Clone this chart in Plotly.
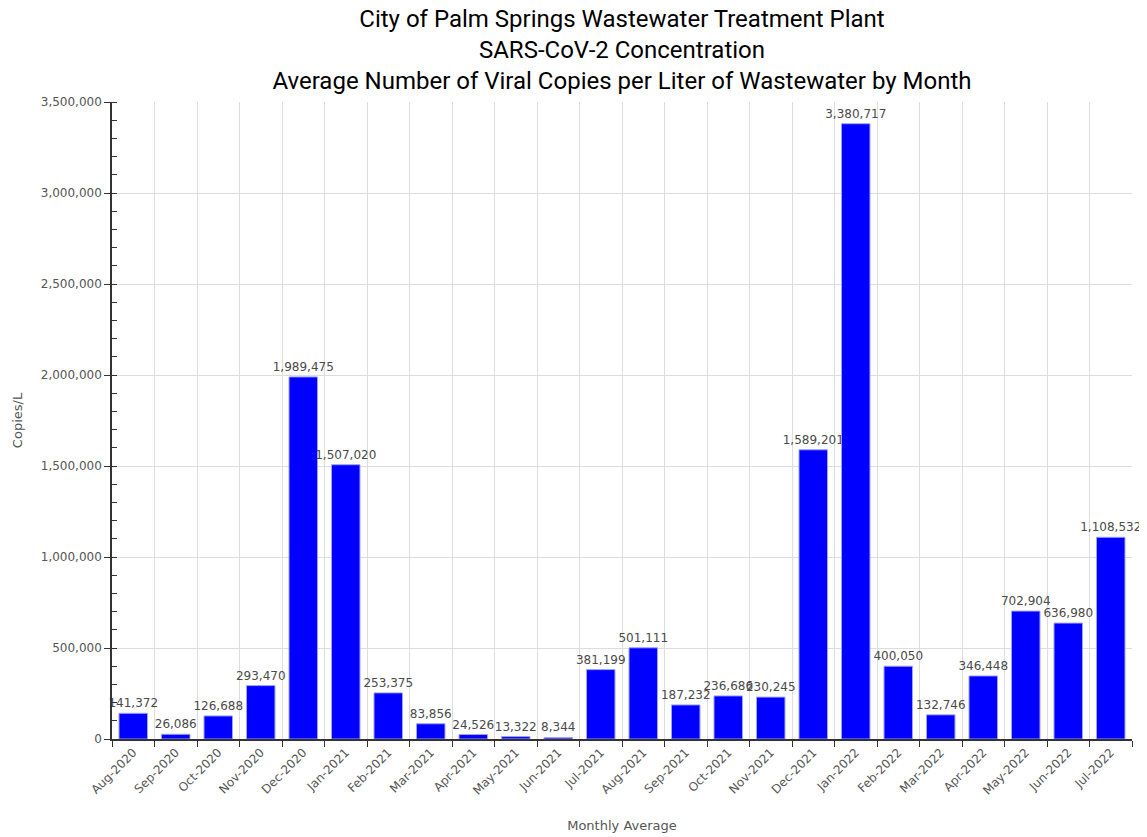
import plotly.graph_objects as go

months = ["Aug-2020", "Sep-2020", "Oct-2020", "Nov-2020", "Dec-2020", "Jan-2021",
          "Feb-2021", "Mar-2021", "Apr-2021", "May-2021", "Jun-2021", "Jul-2021",
          "Aug-2021", "Sep-2021", "Oct-2021", "Nov-2021", "Dec-2021", "Jan-2022",
          "Feb-2022", "Mar-2022", "Apr-2022", "May-2022", "Jun-2022", "Jul-2022"]
copies = [141372, 26086, 126688, 293470, 1989475, 1507020,
          253375, 83856, 24526, 13322, 8344, 381199,
          501111, 187232, 236686, 230245, 1589201, 3380717,
          400050, 132746, 346448, 702904, 636980, 1108532]

labels = [f"{v:,}" for v in copies]

FONT = "DejaVu Sans"
GREY = "#555555"
W, H = 1139, 829

fig = go.Figure(go.Bar(
    x=months, y=copies, text=labels, textposition="outside",
    textangle=0, constraintext="none",
    textfont=dict(family=FONT, size=12, color="#4a4a4a"),
    marker=dict(color="#0000FF", line=dict(color="#a0a0ff", width=1)),
    cliponaxis=False,
))

fig.update_layout(
    width=W, height=H,
    paper_bgcolor="white", plot_bgcolor="white",
    margin=dict(l=104, r=15, t=94, b=98, autoexpand=False),
    bargap=0.33,
    showlegend=False,
    title=dict(
        text="City of Palm Springs Wastewater Treatment Plant<br>SARS-CoV-2 Concentration<br>Average Number of Viral Copies per Liter of Wastewater by Month",
        x=0.5, xref="paper", xanchor="center",
        y=1 - 18.5 / H, yref="container", yanchor="middle",
        font=dict(family="Roboto", size=24, color="#000000"),
    ),
)

fig.update_xaxes(
    type="category", tickson="boundaries", ticks="outside", ticklen=6,
    tickcolor="#333333", showline=True, linecolor="#333333", linewidth=1.5,
    showgrid=True, gridcolor="#dddddd", tickangle=-45, automargin=False,
    tickfont=dict(family=FONT, size=12, color=GREY),
    title=dict(text="Monthly Average", font=dict(family=FONT, size=13, color=GREY), standoff=24),
    range=[-0.5, 23.5],
)
fig.update_yaxes(
    range=[0, 3500000], dtick=500000, tickformat=",d", automargin=False,
    ticks="outside", ticklen=6, tickcolor="#333333",
    showline=True, linecolor="#333333", linewidth=1.5,
    showgrid=True, gridcolor="#dddddd", zeroline=False,
    minor=dict(dtick=100000, ticks="inside", ticklen=5, tickcolor="#333333", showgrid=False),
    tickfont=dict(family=FONT, size=12, color=GREY),
    title=dict(text="Copies/L", font=dict(family=FONT, size=13, color=GREY), standoff=15),
)

fig.write_html("out.html")
